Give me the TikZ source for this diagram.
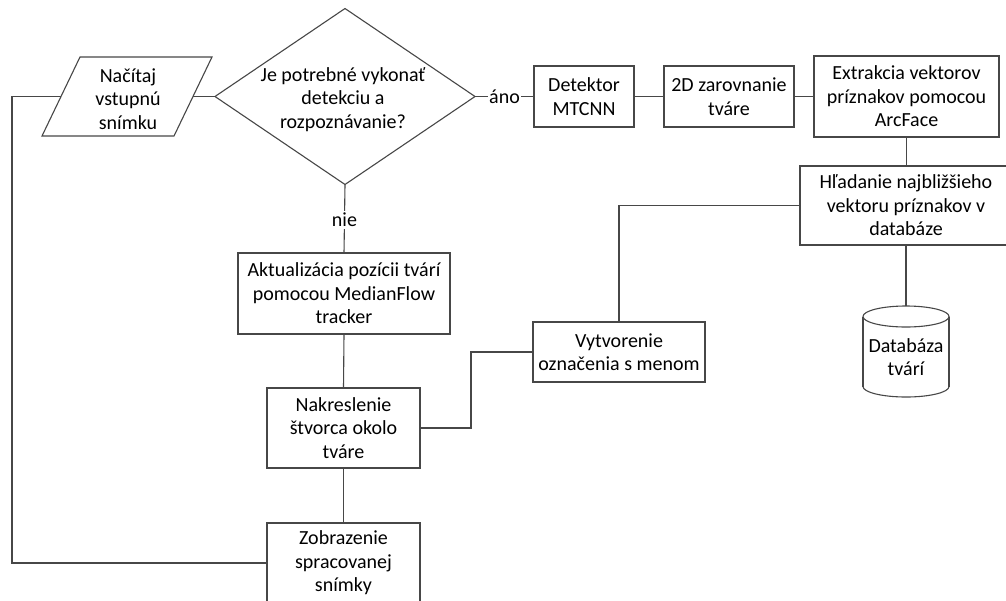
\documentclass[tikz,border=0pt]{standalone}
\usepackage{fontspec}
\setmainfont{Carlito}
\usetikzlibrary{shapes.geometric,calc}
\begin{document}
\begin{tikzpicture}[x=1pt,y=-1pt,
  every node/.style={font=\fontsize{20}{23.5}\selectfont, align=center, inner sep=0pt, outer sep=0pt},
  line/.style={draw=black!72, line width=1.1pt},
  box/.style={rectangle, draw=black!72, line width=1.1pt, fill=white},
  tag/.style={fill=white, inner xsep=1.5pt, inner ysep=2pt}]
\clip (0,0) rectangle (1006,600);
\fill[white] (0,0) rectangle (1006,600);

% input (parallelogram): text node plus outline
\node[minimum width=170pt, minimum height=79pt] (in) at (127,96.5) {};
\node (intxt) at (128,99) {Načítaj\\vstupnú\\snímku};
\draw[line] (in.south west) -- ($(in.south east)+(-38,0)$) -- (in.north east) -- ($(in.north west)+(38,0)$) -- cycle;
\coordinate (inL) at ($(in.west)+(19,0)$);
\coordinate (inR) at ($(in.east)+(-19,0)$);

% decision
\node[diamond, draw=black!72, line width=1.1pt, minimum width=260pt, minimum height=176pt] (dec) at (345,96.5) {};
\node (dectxt) at (343,99.5) {Je potrebné vykonať\\detekciu a\\rozpoznávanie?};

% detection branch
\node[box, minimum width=100pt, minimum height=61pt] (det) at (584,96.5) {Detektor\\MTCNN};
\node[box, minimum width=130pt, minimum height=61pt] (ali) at (729,96.5) {2D zarovnanie\\tváre};
\node[box, minimum width=185pt, minimum height=81pt] (ex) at (906.5,96.5) {Extrakcia vektorov\\príznakov pomocou\\ArcFace};
\node[box, minimum width=212pt, minimum height=79pt] (hl) at (906,205.5) {Hľadanie najbližšieho\\vektoru príznakov v\\databáze};
\node[box, minimum width=172pt, minimum height=60pt] (vyt) at (619,352) {Vytvorenie\\označenia s menom};

% database (cylinder)
\node[minimum width=86pt, minimum height=91pt] (db) at (906,351.5) {};
\path (db.north) ++(0,10.5) coordinate (dbT);
\path (db.south) ++(0,-10.5) coordinate (dbB);
\fill[white] ($(dbT)+(-43,0)$) rectangle ($(dbB)+(43,0)$);
\fill[white] (dbB) ellipse [x radius=43pt, y radius=10.5pt];
\begin{scope}
  \clip ($(dbB)+(-46,0)$) rectangle ($(dbB)+(46,14)$);
  \draw[line] (dbB) ellipse [x radius=43pt, y radius=10.5pt];
\end{scope}
\draw[line] ($(dbT)+(-43,0)$) -- ($(dbB)+(-43,0)$);
\draw[line] ($(dbT)+(43,0)$) -- ($(dbB)+(43,0)$);
\draw[line, fill=white] (dbT) ellipse [x radius=43pt, y radius=10.5pt];
\node (dbtxt) at (906,357) {Databáza\\tvárí};

% tracking branch
\node[box, minimum width=212pt, minimum height=81pt] (akt) at (344,293.5) {Aktualizácia pozícii tvárí\\pomocou MedianFlow\\tracker};
\node[box, minimum width=153pt, minimum height=80pt] (nak) at (343.5,428) {Nakreslenie\\štvorca okolo\\tváre};
\node[box, minimum width=153pt, minimum height=80pt] (zob) at (343.5,563) {Zobrazenie\\spracovanej\\snímky};

% connectors
\coordinate (back) at (12,96.5);
\draw[line] (inR) -- (dec.west);
\draw[line] (dec.east) -- node[tag] (ano) {áno} (det.west);
\draw[line] (det.east) -- (ali.west);
\draw[line] (ali.east) -- (ex.west);
\draw[line] (ex.south) -- (ex.south |- hl.north);
\draw[line] (db.north) -- (db.north |- hl.south);
\draw[line] (hl.west) -| (vyt.north);
\draw[line] (vyt.west) -- ++(-62,0) |- (nak.east);
\draw[line] (dec.south) -- node[tag, yshift=-1pt] (nie) {nie} (akt.north);
\draw[line] (akt.south) -- (nak.north);
\draw[line] (nak.south) -- (zob.north);
\draw[line] (zob.west) -| (back) -- (inL);
\end{tikzpicture}
\end{document}
